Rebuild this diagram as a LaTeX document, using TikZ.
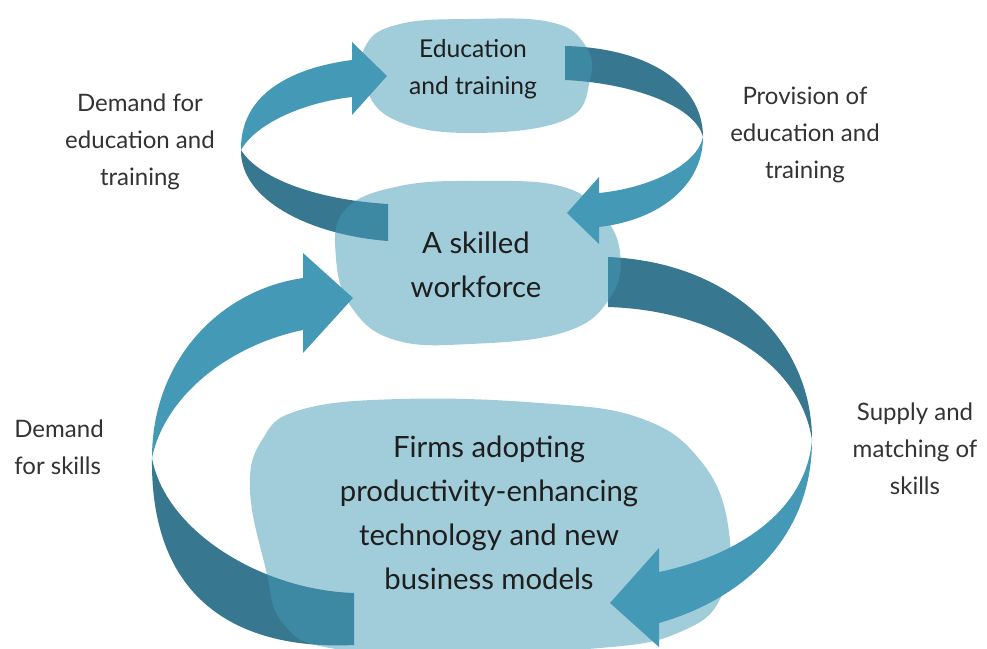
\documentclass[tikz,border=0pt]{standalone}
\usepackage{fontspec}
\setmainfont{Lato}
\usepackage{tikz}
\usepackage{xcolor}
\usetikzlibrary{positioning}

\definecolor{ribbonlight}{HTML}{4499B6}
\definecolor{ribbondark}{HTML}{37778F}
\definecolor{inktext}{HTML}{1E1E1E}
\definecolor{sidetextgray}{HTML}{333333}

\tikzset{
  blobfill/.style={fill=ribbonlight,fill opacity=0.5},
  blobtext/.style={align=center,text=inktext,font=\fontsize{21}{31.5}\selectfont},
  bigtext/.style={align=center,text=inktext,font=\fontsize{25}{37.5}\selectfont},
  sidetext/.style={align=center,text=sidetextgray,font=\fontsize{20.5}{31.5}\selectfont}
}

\begin{document}
\begin{tikzpicture}[x=0.03cm,y=-0.03cm]
\useasboundingbox (0,0) rectangle (987,649);

% dark back of the ribbons (tails)
\fill[ribbondark] (241,150) .. controls (240,200) and (310,235) .. (388,241) -- (388,204) .. controls (320,200) and (260,180) .. (241,150) -- cycle;
\fill[ribbondark] (565,46) .. controls (650,48) and (703,85) .. (703,137) .. controls (695,105) and (630,83) .. (565,80) -- cycle;
\fill[ribbondark] (608,257) .. controls (730,262) and (812,340) .. (812,440) .. controls (800,360) and (710,310) .. (608,307) -- cycle;
\fill[ribbondark] (152,458) .. controls (150,610) and (250,650) .. (354,645) -- (354,593) .. controls (260,590) and (165,530) .. (152,458) -- cycle;

% blobs
\fill[blobfill] plot[smooth cycle,tension=0.7] coordinates {(366,45) (400,24) (470,19) (550,22) (585,45) (590,80) (565,120) (470,133) (395,120) (365,85)};
\fill[blobfill] plot[smooth cycle,tension=0.7] coordinates {(345,210) (400,186) (480,181) (560,186) (600,212) (620,252) (610,298) (565,332) (470,344) (395,340) (352,308) (336,258)};
\fill[blobfill] plot[smooth cycle,tension=0.7] coordinates {(262,440) (300,410) (400,399) (540,403) (640,418) (700,460) (728,525) (722,595) (680,632) (600,648) (450,652) (330,648) (282,622) (266,570) (250,490)};

% light front of the ribbons with heads
\fill[ribbonlight] (241,150) .. controls (240,95) and (290,68) .. (352,60) -- (352,42) -- (387,76) -- (352,115) -- (352,97) .. controls (300,103) and (255,125) .. (241,150) -- cycle;
\fill[ribbonlight] (703,137) .. controls (703,185) and (660,220) .. (599,227) -- (599,244) -- (567,213) -- (599,177) -- (599,193) .. controls (650,188) and (697,165) .. (703,137) -- cycle;
\fill[ribbonlight] (812,440) .. controls (812,540) and (740,600) .. (659,623) -- (659,647) -- (610,603) -- (659,548) -- (659,572) .. controls (740,555) and (806,510) .. (812,440) -- cycle;
\fill[ribbonlight] (152,458) .. controls (152,360) and (220,290) .. (303,278) -- (303,253) -- (353,298) -- (303,353) -- (303,330) .. controls (230,345) and (165,395) .. (152,458) -- cycle;

% texts
\node[blobtext] (edu) at (473,69) {Education\\and training};
\node[bigtext] (skilled) at (476,265) {A skilled\\workforce};
\node[bigtext] (firms) at (489,513) {Firms adopting\\productivity-enhancing\\technology and new\\business models};
\node[sidetext] (demandedu) at (140,142) {Demand for\\education and\\training};
\node[sidetext] (provision) at (805,135) {Provision of\\education and\\training};
\node[sidetext] (supply) at (915,449) {Supply and\\matching of\\skills};
\node[sidetext,align=left] (demandskills) at (59,447) {Demand\\for skills};

\end{tikzpicture}
\end{document}
